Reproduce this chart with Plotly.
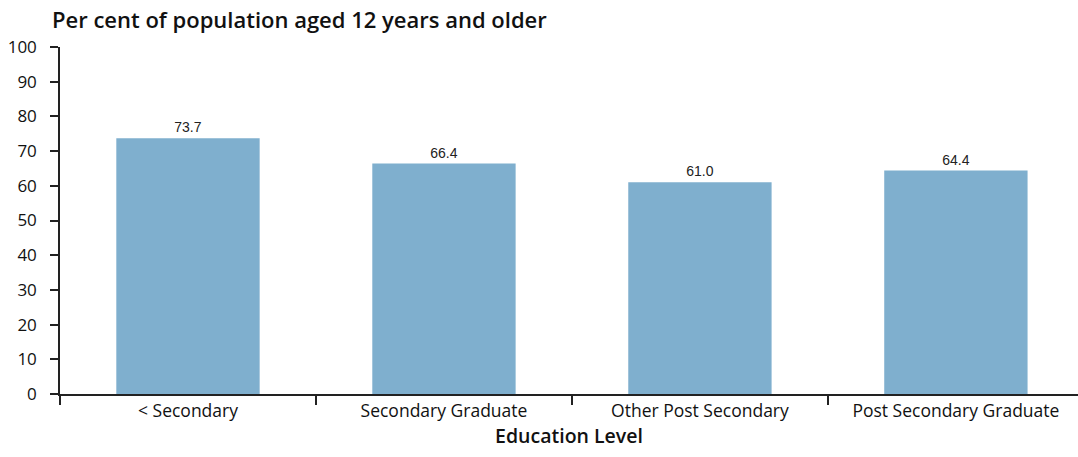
import plotly.graph_objects as go

# Education level categories and share of population (%)
categories = ["< Secondary", "Secondary Graduate", "Other Post Secondary", "Post Secondary Graduate"]
values = [73.7, 66.4, 61.0, 64.4]
value_labels = ["73.7", "66.4", "61.0", "64.4"]
y_ticks = [0, 10, 20, 30, 40, 50, 60, 70, 80, 90, 100]

bar_color = "#7FAFCE"
font_main = "'Open Sans', Lato, sans-serif"

fig = go.Figure(
    go.Bar(
        x=categories,
        y=values,
        text=value_labels,
        textposition="outside",
        textfont=dict(family="Liberation Sans, Arial, sans-serif", size=14, color="#222"),
        marker=dict(color=bar_color, line=dict(width=0)),
        cliponaxis=False,
    )
)

fig.update_layout(
    width=1078,
    height=457,
    margin=dict(l=60, r=0, t=47, b=63),
    plot_bgcolor="white",
    paper_bgcolor="white",
    bargap=0.44,
    showlegend=False,
    font=dict(family=font_main, size=16, color="#111"),
    annotations=[
        dict(
            text="Per cent of population aged 12 years and older",
            xref="paper", yref="paper",
            x=-0.01, y=1.0, yshift=28,
            xanchor="left", yanchor="middle",
            showarrow=False,
            font=dict(family=font_main, size=22, weight=600, color="#111"),
        )
    ],
)

fig.update_xaxes(
    range=[-0.5, 3.477],
    showline=True, linecolor="#222", linewidth=1.5,
    ticks="outside", tickson="boundaries", ticklen=9, tickcolor="#222", tickwidth=1.5,
    showgrid=False,
    tickfont=dict(family=font_main, size=17.5, color="#111"),
    title=dict(text="Education Level", font=dict(family=font_main, size=19.5, weight=600, color="#111"), standoff=6),
)

fig.update_yaxes(
    range=[0, 100],
    tickvals=y_ticks,
    showline=True, linecolor="#222", linewidth=1.5,
    ticks="outside", ticklen=8, tickcolor="#222", tickwidth=1.5,
    showgrid=False, zeroline=False,
    ticklabelstandoff=10,
    tickfont=dict(family=font_main, size=17, color="#111"),
)

fig.write_html("out.html")
